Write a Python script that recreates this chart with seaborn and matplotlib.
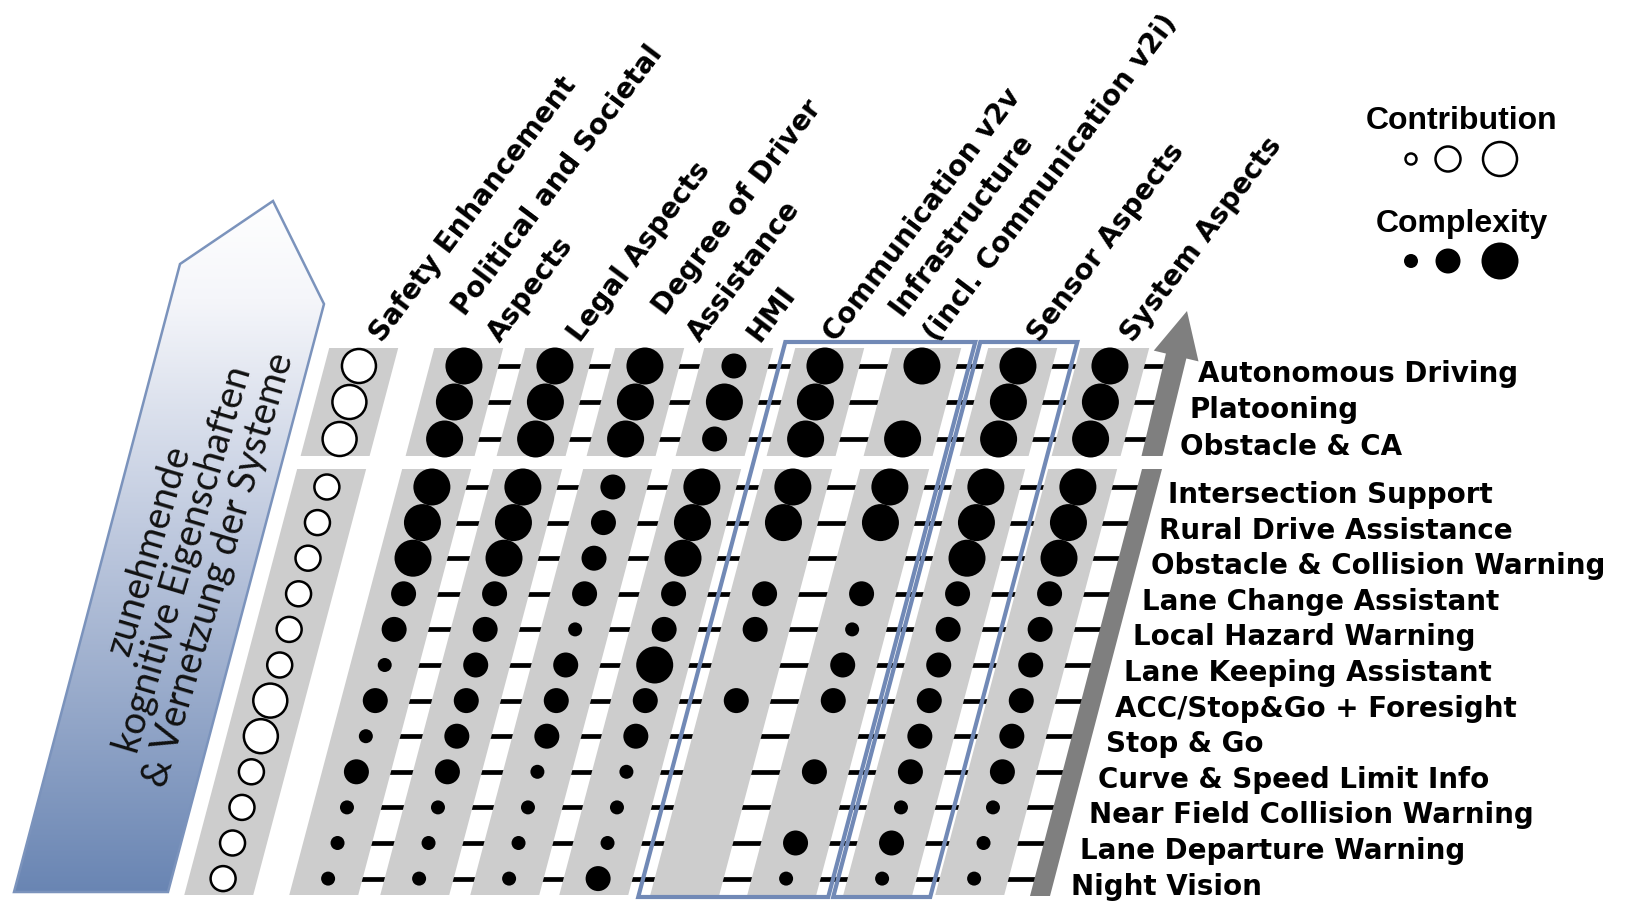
import numpy as np
import pandas as pd
import matplotlib
matplotlib.use("Agg")
import matplotlib.pyplot as plt
import seaborn as sns
from matplotlib.patches import Polygon
from matplotlib.colors import LinearSegmentedColormap

# ---------------- data ----------------
systems = ["Autonomous Driving", "Platooning", "Obstacle & CA",
           "Intersection Support", "Rural Drive Assistance", "Obstacle & Collision Warning",
           "Lane Change Assistant", "Local Hazard Warning", "Lane Keeping Assistant",
           "ACC/Stop&Go + Foresight", "Stop & Go", "Curve & Speed Limit Info",
           "Near Field Collision Warning", "Lane Departure Warning", "Night Vision"]
block = ["upper"] * 3 + ["lower"] * 12

contribution_label = "Safety Enhancement"
# contribution level 1 = small, 2 = medium, 3 = large
safety_enhancement = [3, 3, 3, 2, 2, 2, 2, 2, 2, 3, 3, 2, 2, 2, 2]

aspects = ["Political and Societal\nAspects", "Legal Aspects", "Degree of Driver\nAssistance", "HMI",
           "Communication v2v", "Infrastructure\n(incl. Communication v2i)", "Sensor Aspects",
           "System Aspects"]
# complexity level 0 = none, 1 = small, 2 = medium, 3 = large
political = [3, 3, 3, 3, 3, 3, 2, 2, 1, 2, 1, 2, 1, 1, 1]
legal = [3, 3, 3, 3, 3, 3, 2, 2, 2, 2, 2, 2, 1, 1, 1]
degree = [3, 3, 3, 2, 2, 2, 2, 1, 2, 2, 2, 1, 1, 1, 1]
hmi = [2, 3, 2, 3, 3, 3, 2, 2, 3, 2, 2, 1, 1, 1, 2]
communication = [3, 3, 3, 3, 3, 0, 2, 2, 0, 2, 0, 0, 0, 0, 0]
infrastructure = [3, 0, 3, 3, 3, 0, 2, 1, 2, 2, 0, 2, 0, 2, 1]
sensor = [3, 3, 3, 3, 3, 3, 2, 2, 2, 2, 2, 2, 1, 2, 1]
system = [3, 3, 3, 3, 3, 3, 2, 2, 2, 2, 2, 2, 1, 1, 1]
complexity_table = [political, legal, degree, hmi, communication, infrastructure, sensor, system]

legend_levels = [1, 2, 3]
legend_titles = ["Contribution", "Complexity"]
arrow_text = "zunehmende\nkognitive Eigenschaften\n& Vernetzung der Systeme"

# ---------------- layout ----------------
W, H = 1627, 904
SHEAR = 0.265
Y_BASE = 880
col_base = [223, 328, 419, 509, 598, 689, 786, 882, 974]  # safety + 8 aspects (x at y=880)


def X(c, y):
    return c + SHEAR * (Y_BASE - np.asarray(y, dtype=float))


row_y = [367, 403, 440] + list(488 + 35.6 * np.arange(12))

sns.set_theme(style="white")
plt.rcParams["font.family"] = ["DejaVu Sans"]
plt.rcParams["text.color"] = "black"

fig = plt.figure(figsize=(W / 100, H / 100), dpi=100)
ax = fig.add_axes([0, 0, 1, 1])

# ---- left gradient arrow ----
arrow_poly = [(14, 893), (168, 893), (324, 305), (273, 202), (180, 265)]
patch = Polygon(arrow_poly, closed=True, fc="none", ec="#7b93bc", lw=1.8, zorder=1.5)
ax.add_patch(patch)
cmap = LinearSegmentedColormap.from_list("g", [(0, "#ffffff"), (0.15, "#f5f6fa"),
                                               (0.5, "#bcc7dd"), (1, "#6985b3")])
grad = np.linspace(0, 1, 256).reshape(-1, 1)
im = ax.imshow(grad, cmap=cmap, extent=[0, 340, 895, 195], origin="upper",
               aspect="auto", interpolation="bicubic", zorder=1)
im.set_clip_path(patch)
ax.text(184, 560, arrow_text, rotation=73.5, rotation_mode="anchor", ha="center", va="center",
        multialignment="center", fontsize=27.5, fontweight="normal", family=["Lato", "DejaVu Sans"],
        color="#111111", linespacing=1.0, zorder=6)

# ---- right grey arrows ----
up_bottom_c, up_tip = (1152, 457), (1187, 312)


def up_center(y):
    return up_bottom_c[0] + (up_tip[0] - up_bottom_c[0]) * (up_bottom_c[1] - y) / (up_bottom_c[1] - up_tip[1])


def low_center(y):
    return 1040 + (1152 - 1040) * (897 - y) / (897 - 470)


u = np.array([up_tip[0] - up_bottom_c[0], up_tip[1] - up_bottom_c[1]], float)
u /= np.linalg.norm(u)
p = np.array([-u[1], u[0]])
if p[0] < 0:
    p = -p
hb_y = 357
hb = np.array([up_center(hb_y), hb_y])
sw, hw = 10.5, 23
up_arrow = [(up_bottom_c[0] - sw, 457), (up_bottom_c[0] + sw, 457), tuple(hb + sw * p), tuple(hb + hw * p),
            up_tip, tuple(hb - hw * p), tuple(hb - sw * p)]
ax.add_patch(Polygon(up_arrow, closed=True, fc="#7f7f7f", ec="none", zorder=3))
low_bar = [(1030, 897), (1050, 897), (1162, 470), (1142, 470)]
ax.add_patch(Polygon(low_bar, closed=True, fc="#7f7f7f", ec="none", zorder=3))

# ---- row lines ----
for y, b in zip(row_y, block):
    xs = X(col_base[1], y)
    xe = up_center(y) if b == "upper" else low_center(y)
    ax.plot([xs, xe], [y, y], color="black", lw=3.4, solid_capstyle="butt", zorder=1)

# ---- grey bands ----
HW = 34.5
for c in col_base:
    for yt, yb in [(349, 457), (470, 896)]:
        ax.add_patch(Polygon([(X(c, yt) - HW, yt), (X(c, yt) + HW, yt), (X(c, yb) + HW, yb),
                              (X(c, yb) - HW, yb)], closed=True, fc="#cdcdcd", ec="none", zorder=2))


# ---- blue boxes ----
def box(xl, xr, yt=343, yb=898):
    return [(xl, yb), (xr, yb), (xr + SHEAR * (yb - yt), yt), (xl + SHEAR * (yb - yt), yt)]


for xl, xr in [(X(col_base[5], 898) - 46, X(col_base[6], 898) + 47),
               (X(col_base[7], 898) - 44, X(col_base[7], 898) + 53)]:
    ax.add_patch(Polygon(box(xl, xr), closed=True, fc="none", ec="#7189b6", lw=3.0, zorder=4))

# ---- dots ----
records = []
for j, (name, vals) in enumerate(zip(aspects, complexity_table)):
    for i, v in enumerate(vals):
        if v > 0:
            records.append(dict(system=systems[i], aspect=name, level=v,
                                px=float(X(col_base[j + 1], row_y[i])), py=row_y[i]))
df_cx = pd.DataFrame(records)
df_ct = pd.DataFrame(dict(system=systems, level=safety_enhancement,
                          px=[float(X(col_base[0], y)) for y in row_y], py=row_y))

cx_diam = {1: 14, 2: 25, 3: 37}
ct_diam = {1: 11, 2: 25, 3: 34}
cx_sizes = {k: (d * 0.72) ** 2 for k, d in cx_diam.items()}
ct_sizes = {k: (d * 0.72) ** 2 for k, d in ct_diam.items()}

sns.scatterplot(data=df_cx, x="px", y="py", size="level", sizes=cx_sizes, color="black",
                linewidth=0, edgecolor="none", legend=False, ax=ax, zorder=5)
sns.scatterplot(data=df_ct, x="px", y="py", size="level", sizes=ct_sizes, color="white",
                edgecolor="black", linewidth=1.8, legend=False, ax=ax, zorder=5)

# ---- legend ----
leg_x = [1411, 1448, 1500]
df_lct = pd.DataFrame(dict(level=legend_levels, px=leg_x, py=[160] * 3))
df_lcx = pd.DataFrame(dict(level=legend_levels, px=leg_x, py=[262] * 3))
sns.scatterplot(data=df_lct, x="px", y="py", size="level", sizes=ct_sizes, color="white",
                edgecolor="black", linewidth=1.8, legend=False, ax=ax, zorder=5)
sns.scatterplot(data=df_lcx, x="px", y="py", size="level", sizes=cx_sizes, color="black",
                linewidth=0, edgecolor="none", legend=False, ax=ax, zorder=5)
for t, ty in zip(legend_titles, [121, 224]):
    ax.text(1462, ty, t, ha="center", va="center", fontsize=23, fontweight="bold",
            family=["Liberation Sans", "DejaVu Sans"], zorder=6)

# ---- header labels (one text per line, stacked perpendicular to the text direction) ----
header_names = [contribution_label] + aspects
header_off = [16, 29, 18, 48, 18, 4, 8, 15, 16]
ANG = 53
up_dir = np.array([-np.sin(np.radians(ANG)), -np.cos(np.radians(ANG))])
LS = 44
for c, name, off in zip(col_base, header_names, header_off):
    lines = name.split("\n")
    base = np.array([float(X(c, 340)) + off, 343.0])
    n = len(lines)
    for k, line in enumerate(lines):
        pos = base + (n - 1 - k) * LS * up_dir
        ax.text(pos[0], pos[1], line, rotation=ANG, rotation_mode="anchor", ha="left",
                va="baseline", fontsize=20, fontweight="bold", zorder=6)

# ---- row labels ----
for y, name in zip(row_y, systems):
    ax.text(1071 + 0.248 * (880 - y), y + 7, name, ha="left", va="center", fontsize=20,
            fontweight="bold", zorder=6)

ax.set_xlim(0, W)
ax.set_ylim(H, 0)
ax.set_aspect("auto")
ax.axis("off")
fig.savefig("out.png", dpi=100, facecolor="white")
